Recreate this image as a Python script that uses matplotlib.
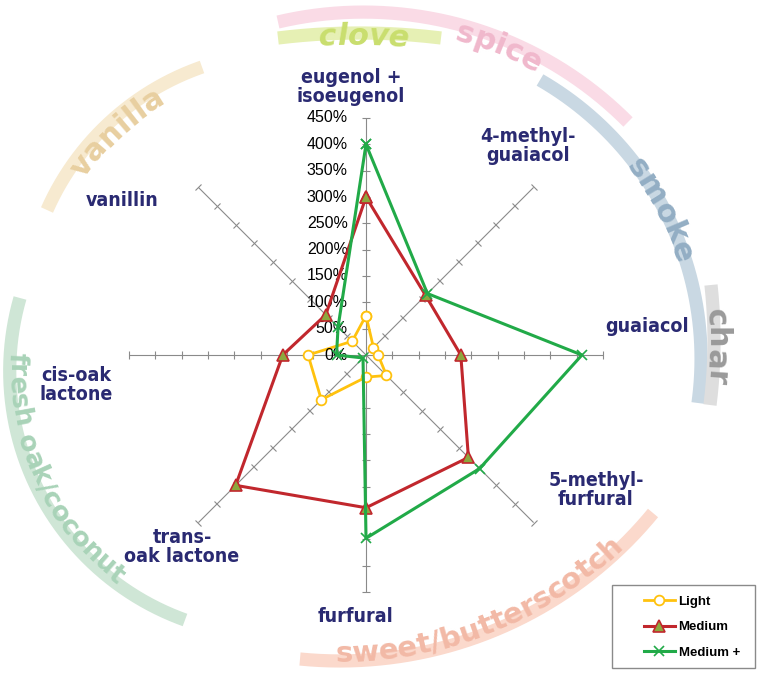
import numpy as np
import matplotlib
matplotlib.use('Agg')
import matplotlib.pyplot as plt
from matplotlib.markers import MarkerStyle
from matplotlib.transforms import Affine2D
from matplotlib.font_manager import FontProperties, findfont, get_font
from matplotlib.patches import Rectangle

# ---- data ----
compounds = ['eugenol +\nisoeugenol', '4-methyl-\nguaiacol', 'guaiacol', '5-methyl-\nfurfural',
             'furfural', 'trans-\noak lactone', 'cis-oak\nlactone', 'vanillin']
light = [75, 20, 23, 55, 42, 120, 110, 37]
medium = [300, 160, 180, 275, 290, 350, 158, 108]
medium_plus = [400, 165, 410, 305, 348, 8, 56, 75]
series_names = ['Light', 'Medium', 'Medium +']
levels = [0, 50, 100, 150, 200, 250, 300, 350, 400, 450]
level_labels = ['0%', '50%', '100%', '150%', '200%', '250%', '300%', '350%', '400%', '450%']
aromas = ['clove', 'spice', 'smoke', 'char', 'sweet/butterscotch', 'fresh oak/coconut', 'vanilla']

W, H, DPI = 758, 673, 100
cx, cy, R = 366, 355, 237          # chart centre and radius in pixels

navy = '#2a2a72'
gray = '#8a8a8a'

fig = plt.figure(figsize=(W / DPI, H / DPI), dpi=DPI)
bg = fig.add_axes([0, 0, 1, 1])
bg.set_xlim(0, W)
bg.set_ylim(0, H)
bg.axis('off')

ax = fig.add_axes([(cx - R) / W, (H - cy - R) / H, 2 * R / W, 2 * R / H], projection='polar')
ax.set_theta_zero_location('N')
ax.set_theta_direction(-1)
ax.set_ylim(0, levels[-1])
ax.set_axis_off()

theta = np.deg2rad(np.arange(len(compounds)) * 360 / len(compounds))

# spokes with tick marks
for t in theta:
    ax.plot([t, t], [0, levels[-1]], color=gray, lw=0.8, zorder=1)
    m = MarkerStyle('_', transform=Affine2D().rotate_deg(180 - np.rad2deg(t)))
    ax.plot(np.full(len(levels) - 1, t), levels[1:], ls='none', marker=m, ms=6,
            mew=0.8, mec=gray, clip_on=False, zorder=1)

tt = np.r_[theta, theta[:1]]
closed = lambda v: np.r_[v, v[:1]]
l1, = ax.plot(tt, closed(light), color='#FFC20E', lw=2, marker='o', ms=7, mfc='white',
              mec='#FFC20E', mew=1.3, clip_on=False, zorder=3)
l2, = ax.plot(tt, closed(medium), color='#C1272D', lw=2.2, marker='^', ms=9, mfc='#8CA83E',
              mec='#C1272D', mew=1.2, clip_on=False, zorder=4)
l3, = ax.plot(tt, closed(medium_plus), color='#21AA48', lw=2.2, marker='x', ms=7, mew=1.2,
              clip_on=False, zorder=5)

for v, lab in zip(levels, level_labels):
    ax.annotate(lab, xy=(0, v), xytext=(-13, 0), textcoords='offset points', ha='right',
                va='center', fontsize=11.5, family='Liberation Sans', annotation_clip=False)

# compound labels (pixel positions, y measured from top)
label_pos = [(351, 87), (528, 146), (647, 327), (596, 490), (356, 617), (182, 547), (76, 385), (122, 200)]
for name, (x, y) in zip(compounds, label_pos):
    bg.text(x, H - y, name, ha='center', va='center', multialignment='center',
            family='DejaVu Sans', fontstretch='condensed', fontweight='bold',
            fontsize=14, color=navy, linespacing=1.0)


# aroma bands around the chart
def circle_through(p1, p2, p3):
    (x1, y1), (x2, y2), (x3, y3) = [(x, H - y) for x, y in (p1, p2, p3)]
    A = 2 * np.array([[x2 - x1, y2 - y1], [x3 - x1, y3 - y1]])
    b = np.array([x2**2 - x1**2 + y2**2 - y1**2, x3**2 - x1**2 + y3**2 - y1**2])
    ox, oy = np.linalg.solve(A, b)
    return ox, oy, np.hypot(x1 - ox, y1 - oy)


def band(pts, color):
    ox, oy, r = circle_through(*pts)
    a1, a2, a3 = [np.arctan2(H - y - oy, x - ox) for x, y in pts]
    d13 = (a3 - a1) % (2 * np.pi)
    d12 = (a2 - a1) % (2 * np.pi)
    end = a1 + d13 if d12 < d13 else a1 - (2 * np.pi - d13)
    a = np.linspace(a1, end, 200)
    bg.plot(ox + r * np.cos(a), oy + r * np.sin(a), color=color, lw=9.5,
            solid_capstyle='butt', zorder=1)
    return ox, oy


def arc_text(s, origin, centre, ccw, size, color, style='normal'):
    ox, oy = origin
    x, y = centre
    rc = np.hypot(x - ox, H - y - oy)
    ac = np.arctan2(H - y - oy, x - ox)
    fp = FontProperties(family='DejaVu Sans', weight='bold', style=style, size=size)
    font = get_font(findfont(fp))
    font.set_size(size, 72)
    adv = np.array([font.load_char(ord(c)).linearHoriAdvance / 65536 for c in s]) * DPI / 72
    pos = np.cumsum(adv) - adv / 2 - adv.sum() / 2
    em = size * DPI / 72
    rb = rc + 0.36 * em if ccw else rc - 0.36 * em
    for c, p in zip(s, pos):
        a = ac + p / rb if ccw else ac - p / rb
        rot = np.rad2deg(a) + (90 if ccw else -90)
        bg.text(ox + rb * np.cos(a), oy + rb * np.sin(a), c, fontproperties=fp, color=color,
                rotation=rot, rotation_mode='anchor', ha='center', va='baseline', zorder=2)


band_pts = [[(278, 38), (360, 33), (441, 38)],
            [(278, 22), (440, 20), (628, 122)],
            [(540, 80), (663, 207), (698, 403)],
            [(711, 285), (714, 345), (710, 405)],
            [(300, 659), (500, 628), (653, 513)],
            [(20, 298), (38, 490), (185, 620)],
            [(47, 210), (110, 122), (202, 67)]]
band_colors = ['#e6f0b4', '#fadbe6', '#c9d8e3', '#dedede', '#fbd9cc', '#cfe6d6', '#f7ead0']
text_colors = ['#c9de6e', '#f0b8cc', '#93aec4', '#9a9a9a', '#f2b9a6', '#a9d3b8', '#e8cfa0']
text_centres = [(364, 34), (500, 44), (665, 208), (719, 347), (487, 623), (42, 478), (113, 128)]
text_ccw = [False, False, False, False, True, True, False]
text_sizes = [22, 22, 22, 22, 21, 19, 22]
text_styles = ['italic', 'normal', 'normal', 'normal', 'normal', 'normal', 'normal']

origins = [band(p, c) for p, c in zip(band_pts, band_colors)]
for s, o, ctr, ccw, sz, col, st in zip(aromas, origins, text_centres, text_ccw, text_sizes,
                                        text_colors, text_styles):
    arc_text(s, o, ctr, ccw, sz, col, st)

# legend
bg.add_patch(Rectangle((612, H - 668), 143, 83, facecolor='white', edgecolor=gray, lw=1, zorder=3))
fig.legend([l1, l2, l3], series_names, loc='center left', bbox_to_anchor=(637 / W, 1 - 627 / H),
           frameon=False, borderpad=0, handlelength=2.4, handletextpad=0.25, labelspacing=1.0,
           prop=FontProperties(family='Liberation Sans', weight='bold', size=9.5))

fig.savefig('out.png', dpi=DPI)
